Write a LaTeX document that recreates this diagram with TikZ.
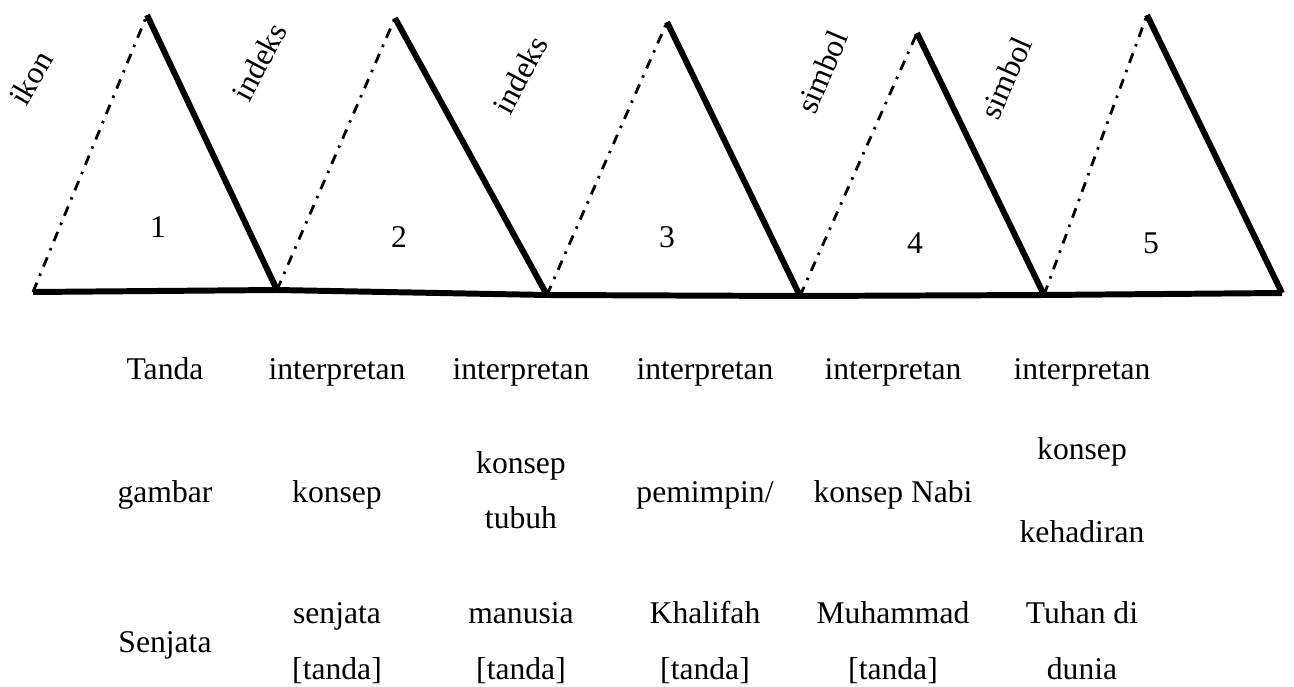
\documentclass[tikz,border=0pt]{standalone}
\usepackage{fontspec}
\setmainfont{Liberation Serif}
\usetikzlibrary{calc}

\tikzset{
  sisi/.style={line width=3.4pt},
  putus/.style={line width=1.6pt, dash pattern=on 0.2cm off 0.15cm on 0.05cm off 0.15cm},
  teks/.style={font=\fontsize{18}{22}\selectfont, anchor=base, inner sep=0pt},
  jenis/.style={font=\fontsize{18}{22}\selectfont, inner sep=0pt},
}

\begin{document}
\begin{tikzpicture}[x=0.02cm,y=-0.02cm]
\useasboundingbox (0,0) rectangle (1294,686);

% Define the coordinates of the vertices
\coordinate (B0) at (33,292);
\coordinate (B1) at (277,290);
\coordinate (B2) at (547,295);
\coordinate (B3) at (800,296);
\coordinate (B4) at (1044,295);
\coordinate (B5) at (1282,293);

\coordinate (T1) at (147,15);
\coordinate (T2) at (395,18);
\coordinate (T3) at (667,22);
\coordinate (T4) at (917,33);
\coordinate (T5) at (1147,15);

% Draw base line
\draw[sisi] (B0) -- (B1) -- (B2) -- (B3) -- (B4) -- (B5);

% Draw left edges
\draw[putus] (B0) -- (T1);
\draw[putus] (B1) -- (T2);
\draw[putus] (B2) -- (T3);
\draw[putus] (B3) -- (T4);
\draw[putus] (B4) -- (T5);

% Draw right edges
\draw[sisi] (T1) -- (B1);
\draw[sisi] (T2) -- (B2);
\draw[sisi] (T3) -- (B3);
\draw[sisi] (T4) -- (B4);
\draw[sisi] (T5) -- (B5);

% Numbers
\node[teks] (n1) at (158,237) {1};
\node[teks] (n2) at (399,247) {2};
\node[teks] (n3) at (667,247) {3};
\node[teks] (n4) at (915,253) {4};
\node[teks] (n5) at (1151,253) {5};

% Kinds of sign
\node[jenis,rotate=60] (j1) at (31,78) {ikon};
\node[jenis,rotate=62] (j2) at (259,62) {indeks};
\node[jenis,rotate=62] (j3) at (520,75) {indeks};
\node[jenis,rotate=67] (j4) at (822,72) {simbol};
\node[jenis,rotate=66] (j5) at (1006,78) {simbol};

% First row
\node[teks] (a1) at (165,379) {Tanda};
\node[teks] (a2) at (337,379) {interpretan};
\node[teks] (a3) at (521,379) {interpretan};
\node[teks] (a4) at (705,379) {interpretan};
\node[teks] (a5) at (893,379) {interpretan};
\node[teks] (a6) at (1082,379) {interpretan};

% Second row
\node[teks] (b1) at (165,502) {gambar};
\node[teks] (b2) at (337,502) {konsep};
\node[teks] (b3) at (521,473) {konsep};
\node[teks] (b3b) at (521,528) {tubuh};
\node[teks] (b4) at (705,502) {pemimpin/};
\node[teks] (b5) at (893,502) {konsep Nabi};
\node[teks] (b6) at (1082,459) {konsep};
\node[teks] (b6b) at (1082,542) {kehadiran};

% Third row
\node[teks] (c1) at (165,652) {Senjata};
\node[teks] (c2) at (337,623) {senjata};
\node[teks] (c2b) at (337,679) {[tanda]};
\node[teks] (c3) at (521,623) {manusia};
\node[teks] (c3b) at (521,679) {[tanda]};
\node[teks] (c4) at (705,623) {Khalifah};
\node[teks] (c4b) at (705,679) {[tanda]};
\node[teks] (c5) at (893,623) {Muhammad};
\node[teks] (c5b) at (893,679) {[tanda]};
\node[teks] (c6) at (1082,623) {Tuhan di};
\node[teks] (c6b) at (1082,679) {dunia};
\end{tikzpicture}
\end{document}
